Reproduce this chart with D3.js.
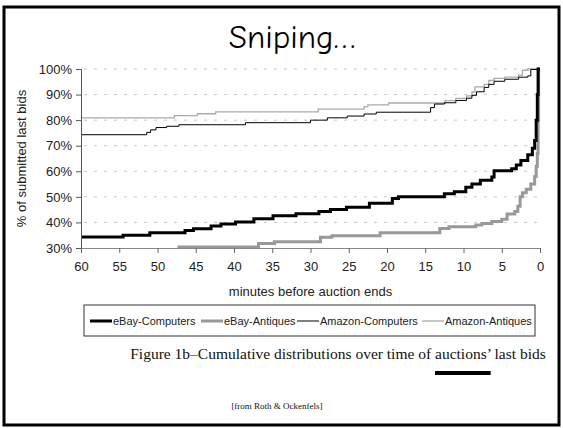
<!DOCTYPE html>
<html>
<head>
<meta charset="utf-8">
<script src="https://cdn.jsdelivr.net/npm/d3@7"></script>
<style>
  body { margin: 0; background: #fff; }
  svg { display: block; }
</style>
</head>
<body>
<svg id="chart" width="563" height="428"></svg>
<script>
// step data: [minutes before end, % of last bids]
const ebayComputers = [
  [60, 34.3], [54.5, 35.0], [51, 36.0], [46.4, 36.8], [45.3, 37.5], [43, 38.6],
  [41.7, 39.4], [39.8, 40.2], [37.4, 41.4], [34.9, 42.6], [31.9, 43.4], [28.9, 44.3],
  [27.4, 45.1], [25.3, 45.9], [22.3, 47.5], [19.3, 49.4], [18.5, 50.0], [12.5, 51.2],
  [11.2, 52.0], [9.7, 53.8], [8.9, 55.0], [7.8, 56.5], [6.3, 57.8], [6.0, 60.2],
  [3.7, 61.0], [3.1, 62.5], [2.5, 64.2], [1.6, 66.5], [1.0, 69], [0.7, 72],
  [0.5, 80], [0.35, 90], [0.25, 100], [0, 100]
];
const ebayAntiques = [
  [60, 29], [47.2, 30.4], [36.8, 31.8], [34.7, 32.4], [28.7, 34.2], [27.2, 34.8],
  [20.9, 36.0], [13.1, 37.6], [11.9, 38.3], [8.4, 39.0], [7.6, 39.6], [6.3, 40.4],
  [5.0, 41.2], [4.3, 43.3], [3.3, 44.3], [2.9, 46.3], [2.6, 50], [2.3, 51.6],
  [1.8, 53], [1.2, 55], [0.7, 58], [0.5, 62], [0.35, 67], [0.25, 80], [0.18, 100], [0, 100]
];
const amazonComputers = [
  [60, 74.3], [51.4, 75.2], [50.9, 76.2], [50.2, 77.1], [48.8, 77.6], [47.2, 78.2],
  [38.5, 79.0], [30, 80.0], [27.8, 80.9], [25.2, 81.6], [23, 82.4], [21.4, 83.1],
  [14.3, 84.9], [13.8, 86.3], [12.5, 86.8], [11, 87.7], [9.6, 88.6], [8.9, 89.7],
  [8.3, 91.1], [7.3, 92.8], [6.7, 94], [6.0, 95.2], [4.6, 96], [2.8, 96.8],
  [1.6, 97.3], [1.2, 99.8], [0.25, 100], [0, 100]
];
const amazonAntiques = [
  [60, 80.9], [47.8, 81.8], [44.8, 82.5], [42.4, 83.2], [29, 84.3], [23, 85.3],
  [22.5, 86.0], [19.8, 86.7], [12.4, 87.6], [11, 88.5], [9.6, 89.5], [8.9, 91],
  [8.5, 93], [7.3, 94], [6.7, 95.5], [6, 96.3], [4.6, 96.8], [2.8, 97.6],
  [2.3, 99.5], [1.6, 100], [0, 100]
];

const seriesNames = ['eBay-Computers', 'eBay-Antiques', 'Amazon-Computers', 'Amazon-Antiques'];
const seriesData = [ebayComputers, ebayAntiques, amazonComputers, amazonAntiques];
const xTicks = [60, 55, 50, 45, 40, 35, 30, 25, 20, 15, 10, 5, 0];
const yTicks = [30, 40, 50, 60, 70, 80, 90, 100];

const seriesStyle = [
  { color: '#000', width: 3 },
  { color: '#999', width: 3 },
  { color: '#000', width: 1 },
  { color: '#aaa', width: 1.3 }
];

const plotLeft = 81, plotRight = 540, plotTop = 69, plotBottom = 248;
const labelFont = 'Liberation Sans, Arial, sans-serif';

const svg = d3.select('#chart');

// slide frame
svg.append('rect')
  .attr('x', 4).attr('y', 7)
  .attr('width', 555).attr('height', 418)
  .style('fill', 'none').style('stroke', '#000').style('stroke-width', 3);

svg.append('text')
  .attr('x', 292).attr('y', 48)
  .attr('text-anchor', 'middle')
  .style('font-family', '"Comic Sans MS", "Comic Neue", cursive, "DejaVu Sans"')
  .style('font-size', '33px')
  .text('Sniping…');

const x = d3.scaleLinear().domain([60, 0]).range([plotLeft, plotRight]);
const y = d3.scaleLinear().domain([30, 100]).range([plotBottom, plotTop]);

// grid
svg.append('g')
  .selectAll('line')
  .data(yTicks.filter(t => t > 30))
  .join('line')
  .attr('x1', plotLeft + 3).attr('x2', plotRight)
  .attr('y1', d => y(d)).attr('y2', d => y(d))
  .style('stroke', '#c8c8c8')
  .style('stroke-dasharray', '3,7');

svg.append('defs').append('clipPath').attr('id', 'plotClip')
  .append('rect')
  .attr('x', plotLeft).attr('y', plotTop - 2)
  .attr('width', plotRight - plotLeft + 3).attr('height', plotBottom - plotTop + 2);

const line = d3.line()
  .x(d => x(d[0]))
  .y(d => y(d[1]))
  .curve(d3.curveStepAfter);

const lines = svg.append('g').attr('clip-path', 'url(#plotClip)');
// draw thin series first, thick on top
[3, 2, 1, 0].forEach(i => {
  lines.append('path')
    .datum(seriesData[i])
    .attr('d', line)
    .style('fill', 'none')
    .style('stroke', seriesStyle[i].color)
    .style('stroke-width', seriesStyle[i].width)
    .style('stroke-linejoin', 'miter');
});

// axes
const yAxis = svg.append('g')
  .attr('transform', `translate(${plotLeft},0)`)
  .call(d3.axisLeft(y).tickValues(yTicks).tickFormat(d => d + '%').tickSize(5).tickPadding(4));
yAxis.select('.domain').style('stroke', '#555');
yAxis.selectAll('.tick line').style('stroke', '#555');
yAxis.selectAll('text').style('font-family', labelFont).style('font-size', '13px').style('fill', '#222');

const xAxis = svg.append('g')
  .attr('transform', `translate(0,${plotBottom})`)
  .call(d3.axisBottom(x).tickValues(xTicks).tickSize(5).tickPadding(9).tickSizeOuter(0));
xAxis.select('.domain').style('stroke', '#888');
xAxis.selectAll('.tick line').style('stroke', '#666');
xAxis.selectAll('text').style('font-family', labelFont).style('font-size', '13px').style('fill', '#222');

svg.append('text')
  .attr('transform', `translate(26,${(plotTop + plotBottom) / 2}) rotate(-90)`)
  .attr('text-anchor', 'middle')
  .style('font-family', labelFont).style('font-size', '13px').style('fill', '#222')
  .text('% of submitted last bids');

svg.append('text')
  .attr('x', (plotLeft + plotRight) / 2).attr('y', 296)
  .attr('text-anchor', 'middle')
  .style('font-family', labelFont).style('font-size', '13px').style('fill', '#222')
  .text('minutes before auction ends');

// legend
const legend = svg.append('g').attr('transform', 'translate(84,305)');
legend.append('rect')
  .attr('width', 451).attr('height', 31)
  .style('fill', '#fff').style('stroke', '#333').style('stroke-width', 1);
const legendX = [6, 117, 213, 338];
seriesNames.forEach((name, i) => {
  const g = legend.append('g').attr('transform', `translate(${legendX[i]},16)`);
  g.append('line')
    .attr('x1', 0).attr('x2', 22)
    .style('stroke', seriesStyle[i].color)
    .style('stroke-width', seriesStyle[i].width);
  g.append('text')
    .attr('x', 23).attr('y', 4)
    .style('font-family', labelFont).style('font-size', '11px').style('fill', '#222')
    .text(name);
});

// caption with the underline drawn under "auctions’"
const caption = svg.append('text')
  .attr('x', 338).attr('y', 359)
  .attr('text-anchor', 'middle')
  .style('font-family', 'Liberation Serif, "Times New Roman", serif')
  .style('font-size', '15.5px').style('fill', '#111')
  .text('Figure 1b–Cumulative distributions over time of auctions’ last bids');
const capNode = caption.node();
const capText = capNode.textContent;
const wStart = capText.indexOf('auctions');
const ux0 = capNode.getStartPositionOfChar(wStart).x;
const ux1 = capNode.getEndPositionOfChar(wStart + 8).x;
svg.append('rect')
  .attr('x', ux0).attr('y', 371)
  .attr('width', ux1 - ux0).attr('height', 4)
  .style('fill', '#000');

svg.append('text')
  .attr('x', 277).attr('y', 409)
  .attr('text-anchor', 'middle')
  .style('font-family', 'Liberation Serif, "Times New Roman", serif')
  .style('font-size', '9px').style('fill', '#111')
  .text('[from Roth & Ockenfels]');
</script>
</body>
</html>
